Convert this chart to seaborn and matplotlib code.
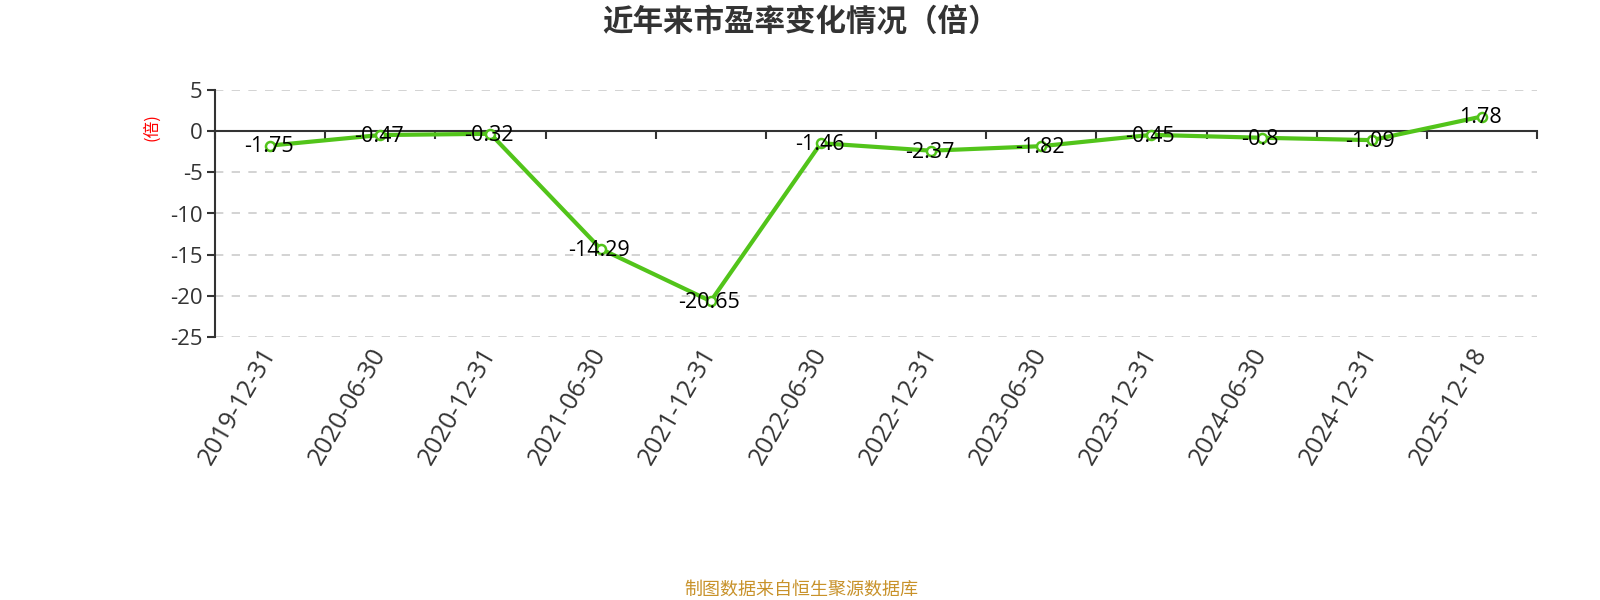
import numpy as np
import pandas as pd
import matplotlib
matplotlib.use("Agg")
import matplotlib.pyplot as plt
import seaborn as sns

dates = ["2019-12-31", "2020-06-30", "2020-12-31", "2021-06-30", "2021-12-31", "2022-06-30",
         "2022-12-31", "2023-06-30", "2023-12-31", "2024-06-30", "2024-12-31", "2025-12-18"]
pe = [-1.75, -0.47, -0.32, -14.29, -20.65, -1.46, -2.37, -1.82, -0.45, -0.8, -1.09, 1.78]
labels = ["-1.75", "-0.47", "-0.32", "-14.29", "-20.65", "-1.46", "-2.37", "-1.82", "-0.45", "-0.8", "-1.09", "1.78"]
yticks = [5, 0, -5, -10, -15, -20, -25]

sns.set_style("white")
plt.rcParams['font.family'] = ['Noto Sans CJK SC', 'DejaVu Sans']
plt.rcParams['axes.unicode_minus'] = False
NUM = ['Open Sans', 'DejaVu Sans']

fig = plt.figure(figsize=(16, 6), dpi=100)
ax = fig.add_axes([215/1600, 1-337/600, (1537-215)/1600, (337-90)/600])

df = pd.DataFrame({"x": np.arange(len(dates)), "pe": pe})
green = "#52C41A"
sns.lineplot(data=df, x="x", y="pe", ax=ax, color=green, linewidth=3,
             marker="o", markersize=6.5, markerfacecolor="white",
             markeredgecolor=green, markeredgewidth=1.8, zorder=3)

for i, (v, t) in enumerate(zip(pe, labels)):
    ax.annotate(t, (i, v), xytext=(-1, -1), textcoords="offset points",
                ha="center", va="center", fontsize=15.5, color="black",
                family=NUM, zorder=4)

ax.set_xlim(-0.5, len(dates) - 0.5)
ax.set_ylim(-25, 5)
ax.set_yticks(yticks)
ax.set_yticklabels([str(v) for v in yticks], fontsize=16, color="#333333", family=NUM)
ax.tick_params(axis="y", left=True, length=6, width=1.5, color="#333333", pad=3)
ax.yaxis.grid(True, linestyle=(0, (5, 5)), color="#cccccc", linewidth=1.2)
ax.set_axisbelow(True)

for s in ["top", "right"]:
    ax.spines[s].set_visible(False)
ax.spines["left"].set_color("#333333")
ax.spines["left"].set_linewidth(1.5)
ax.spines["bottom"].set_position(("data", 0))
ax.spines["bottom"].set_color("#333333")
ax.spines["bottom"].set_linewidth(1.5)
ax.spines["bottom"].set_zorder(2.5)
ax.set_xticks(np.arange(-0.5, len(dates), 1.0))
ax.set_xticklabels([])
ax.tick_params(axis="x", bottom=True, length=6, width=1.5, color="#333333")
ax.set_xlabel("")
ax.set_ylabel("")

sec = ax.secondary_xaxis(0)
sec.set_xticks(np.arange(len(dates)))
sec.set_xticklabels(dates, rotation=60, ha="right", va="center", rotation_mode="anchor",
                    fontsize=18, color="#333333", family=NUM)
sec.tick_params(axis="x", bottom=True, length=0, pad=9)
sec.spines["bottom"].set_visible(False)

fig.text(801/1600, 1-23/600, "近年来市盈率变化情况（倍）", ha="center", va="center",
         fontsize=22, fontweight="bold", color="#333333")
fig.text(152/1600, 1-127/600, "(倍)", ha="center", va="center", rotation=90,
         fontsize=12, color="red")
fig.text(801/1600, 1-590/600, "制图数据来自恒生聚源数据库", ha="center", va="center",
         fontsize=13, color="#C8922A")

fig.savefig("out.png", dpi=100)
